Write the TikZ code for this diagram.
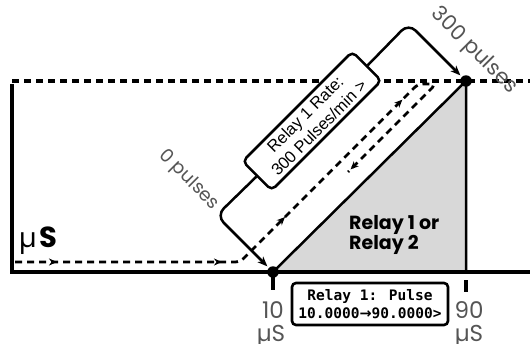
\documentclass[tikz,border=0pt]{standalone}
\usepackage{fontspec}
\setmainfont{Poppins}
\newfontfamily\lcdfont{DejaVu Sans Mono}
\newfontfamily\boxfont{Liberation Sans}
\newfontfamily\symfont{DejaVu Sans}
\usetikzlibrary{arrows.meta,decorations.markings}
\definecolor{areagray}{RGB}{216,216,216}
\definecolor{labelgray}{RGB}{85,85,85}
\tikzset{
  axis/.style={line width=3.2pt},
  topdash/.style={line width=3.4pt, dash pattern=on 7pt off 5pt},
  pulsepath/.style={line width=2.8pt, dash pattern=on 7pt off 5pt, rounded corners=5pt},
  dot/.style={circle, fill=black, minimum size=11.5pt, inner sep=0pt},
  bracket/.style={line width=2.5pt, rounded corners=10pt},
  tip/.style={-{Stealth[length=10pt,width=8pt,inset=3pt]}},
  lbl/.style={text=labelgray, inner sep=0pt},
}
\newcommand{\fs}[1]{\fontsize{#1}{#1}\selectfont}
\begin{document}
\begin{tikzpicture}[x=1pt,y=-1pt]
\useasboundingbox (0,0) rectangle (530,343);
% coordinates
\coordinate (ax1) at (530,272);
\coordinate (corner) at (12,272);
\coordinate (lt) at (12,84);
\coordinate (td0) at (12,81);
\coordinate (td1) at (530,81);
\coordinate (foot) at (466,272);
% shaded region
\fill[areagray] (273,272) -- (466,81) -- (466,272) -- cycle;
% axes
\draw[axis] (lt) -- (corner) -- (ax1);
\draw[topdash] (td0) -- (td1);
\node[dot] (p10) at (273,272) {};
\node[dot] (p90) at (466,81) {};
\draw[line width=2.5pt] (p10.center) -- (p90.center) -- (foot);
% ticks
\coordinate (t10a) at (273,272); \coordinate (t10b) at (273,290);
\coordinate (t90a) at (466,280); \coordinate (t90b) at (466,292);
\draw[axis] (t10a) -- (t10b);
\draw[axis] (t90a) -- (t90b);
% pulse path
\coordinate (s0) at (15,262);
\coordinate (s1) at (240,262);
\coordinate (s2) at (418,84);
\coordinate (s3) at (436,84);
\coordinate (s4) at (348,172);
\draw[pulsepath, postaction={decorate}, decoration={markings,
   mark=at position 42pt with {\arrow{Stealth[length=8pt,width=7pt,inset=2.5pt]}},
   mark=at position 207pt with {\arrow{Stealth[length=8pt,width=7pt,inset=2.5pt]}},
   mark=at position 288pt with {\arrow{Stealth[length=8pt,width=7pt,inset=2.5pt]}},
   mark=at position 454pt with {\arrow{Stealth[length=8pt,width=7pt,inset=2.5pt]}},
   mark=at position 610pt with {\arrow{Stealth[length=8pt,width=7pt,inset=2.5pt]}}}]
   (s0) -- (s1) -- (s2) -- (s3) -- (s4);
% rate box and bracket
\node[draw, line width=2.5pt, rounded corners=5pt, fill=white, rotate=45,
      minimum width=155pt, minimum height=41pt, inner sep=0pt, align=center,
      font=\boxfont\fs{16.5}] (rate) at (312,121)
      {Relay 1 Rate:\\[3pt]300 Pulses/min >};
\coordinate (c1) at (216.5,215.5);
\coordinate (c2) at (408.5,23.5);
\draw[bracket, tip, shorten >=2pt] (rate.west) -- (c1) -- (p10);
\draw[bracket, tip, shorten >=2pt] (rate.east) -- (c2) -- (p90);
% pulse labels
\node[lbl, rotate=-45, font=\fs{18.5}] (zp) at (189,180) {0 pulses};
\node[lbl, rotate=-45, font=\fs{21}] (tp) at (474,51) {300 pulses};
% relay text
\node[anchor=base west, inner sep=0pt, font=\bfseries\fs{19}] (r1) at (349,229) {Relay 1 or};
\node[anchor=base west, inner sep=0pt, font=\bfseries\fs{19}] (r2) at (349,249) {Relay 2};
% left unit
\node[anchor=base west, inner sep=0pt] (mu) at (19,247) {{\fs{27}µ}\kern2.5pt{\bfseries\fs{29}S}};
% tick labels
\node[lbl, anchor=base, font=\fs{23}] (l10) at (273,318) {10};
\node[lbl, anchor=base, font=\fs{23}] (u10) at (271,341) {µS};
\node[lbl, anchor=base, font=\fs{23}] (l90) at (469,318) {90};
\node[lbl, anchor=base, font=\fs{23}] (u90) at (469,341) {µS};
% LCD box
\node[draw, line width=2.6pt, rounded corners=4pt, minimum width=156pt, minimum height=42pt,
      inner sep=0pt, align=center, font=\lcdfont\bfseries\fs{14.5}] (lcd) at (370,304)
      {Relay 1: Pulse\\[3pt]10.0000\symfont→\lcdfont 90.0000>};
\end{tikzpicture}
\end{document}
